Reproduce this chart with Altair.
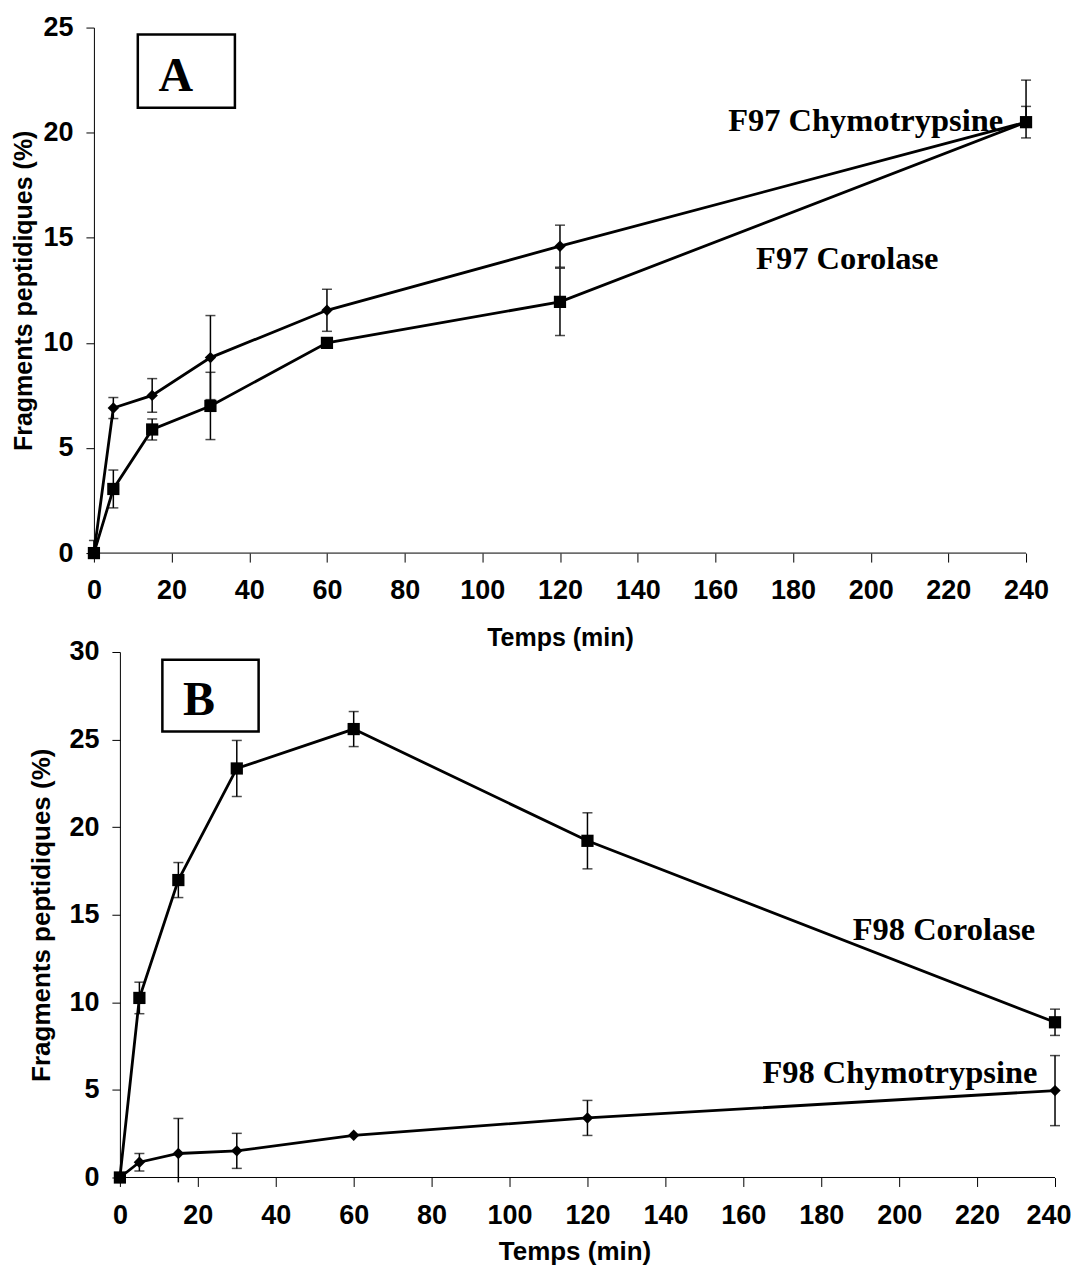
import altair as alt
import pandas as pd

# ---------------- data ----------------
times = [0, 5, 15, 30, 60, 120, 240]

# Panel A
a_chymo = [0, 6.9, 7.5, 9.3, 11.55, 14.6, 20.5]
a_chymo_err_lo = [0, 0.5, 0.8, 2.0, 1.0, 1.0, 0.0]
a_chymo_err_hi = [0.6, 0.5, 0.8, 2.0, 1.0, 1.0, 2.0]
a_corol = [0, 3.05, 5.88, 7.0, 10.0, 11.95, 20.5]
a_corol_err_lo = [0, 0.9, 0.5, 1.6, 0, 1.6, 0.75]
a_corol_err_hi = [0, 0.9, 0.5, 1.6, 0, 1.6, 0.75]

# Panel B
b_corol = [0, 10.25, 16.98, 23.35, 25.6, 19.22, 8.86]
b_corol_err_lo = [0, 0.9, 1.0, 1.6, 1.0, 1.6, 0.75]
b_corol_err_hi = [0, 0.9, 1.0, 1.6, 1.0, 1.6, 0.75]
b_chymo = [0, 0.87, 1.37, 1.52, 2.41, 3.4, 4.96]
b_chymo_err_lo = [0, 0.5, 1.65, 1.0, 0, 1.0, 2.0]
b_chymo_err_hi = [0, 0.5, 2.0, 1.0, 0, 1.0, 2.0]

x_ticks = list(range(0, 241, 20))
a_y_ticks = [0, 5, 10, 15, 20, 25]
b_y_ticks = [0, 5, 10, 15, 20, 25, 30]

a_labels = ["F97 Chymotrypsine", "F97 Corolase"]
a_label_x = [163.3, 170.5]
a_label_y = [20.1, 13.5]
b_labels = ["F98 Corolase", "F98 Chymotrypsine"]
b_label_x = [188.1, 164.9]
b_label_y = [13.56, 5.38]

SANS = "Liberation Sans"
SERIF = "Liberation Serif"


def series_df(pairs):
    rows = []
    for name, vals in pairs:
        for t, v in zip(times, vals):
            rows.append({"t": t, "v": v, "serie": name})
    return pd.DataFrame(rows)


def err_dfs(items):
    bars, caps = [], []
    for vals, lo, hi in items:
        for t, v, l, h in zip(times, vals, lo, hi):
            if l > 0 or h > 0:
                bars.append({"t": t, "lo": v - l, "hi": v + h})
            if l > 0 and v - l >= 0:
                caps.append({"t": t, "y": v - l})
            if h > 0:
                caps.append({"t": t, "y": v + h})
    return pd.DataFrame(bars), pd.DataFrame(caps)


def panel(pairs, err_items, labels, lx, ly, panel_letter, letter_pos, box,
          xdom, ydom, yticks, width, height, yaxis_offset, fs, tfs,
          x_lpad, x_tpad, y_tpad, flush_off):
    xs = alt.Scale(domain=xdom, nice=False, zero=False)
    ys = alt.Scale(domain=ydom, nice=False)
    x_axis = alt.Axis(values=x_ticks, title="Temps (min)", grid=False,
                      tickSize=9, labelPadding=x_lpad, titlePadding=x_tpad,
                      domain=False, labelFont=SANS, labelFontWeight="bold",
                      labelFontSize=fs, titleFont=SANS, titleFontWeight="bold",
                      titleFontSize=tfs, labelColor="black", titleColor="black",
                      tickColor="black", tickWidth=1,
                      labelFlush=flush_off > 0, labelFlushOffset=flush_off)
    y_axis = alt.Axis(values=yticks, title="Fragments peptidiques (%)",
                      grid=False, tickSize=8, labelPadding=13, titlePadding=y_tpad,
                      offset=yaxis_offset, domainColor="black", domainWidth=1,
                      labelFont=SANS, labelFontWeight="bold", labelFontSize=fs,
                      titleFont=SANS, titleFontWeight="bold", titleFontSize=tfs,
                      labelColor="black", titleColor="black", tickColor="black",
                      tickWidth=1, labelFlush=False)

    df = series_df(pairs)
    bars, caps = err_dfs(err_items)

    base_x = alt.X("t:Q", scale=xs, axis=x_axis)

    xline = alt.Chart(pd.DataFrame({"a": [0], "b": [240], "y": [0]})).mark_rule(
        color="black", strokeWidth=1).encode(
        x=alt.X("a:Q", scale=xs, axis=x_axis), x2="b:Q",
        y=alt.Y("y:Q", scale=ys, axis=y_axis))

    rules = alt.Chart(bars).mark_rule(color="black", strokeWidth=1.5).encode(
        x=base_x, y=alt.Y("lo:Q", scale=ys, axis=y_axis), y2="hi:Q")
    capm = alt.Chart(caps).mark_tick(color="black", orient="horizontal",
                                      size=10, thickness=1.5).encode(
        x=base_x, y=alt.Y("y:Q", scale=ys, axis=y_axis))
    lines = alt.Chart(df).mark_line(color="black", strokeWidth=2.8).encode(
        x=base_x, y=alt.Y("v:Q", scale=ys, axis=y_axis), detail="serie:N")
    pts = alt.Chart(df).mark_point(filled=True, color="black", opacity=1).encode(
        x=base_x, y=alt.Y("v:Q", scale=ys, axis=y_axis),
        shape=alt.Shape("serie:N", legend=None,
                        scale=alt.Scale(domain=["chymo", "corol"],
                                        range=["diamond", "square"])),
        size=alt.Size("serie:N", legend=None,
                      scale=alt.Scale(domain=["chymo", "corol"],
                                      range=[130, 150])))

    txt = alt.Chart(pd.DataFrame({"lab": labels, "x": lx, "y": ly})).mark_text(
        font=SERIF, fontWeight="bold", fontSize=32.5, align="left",
        baseline="alphabetic", color="black").encode(
        x=alt.X("x:Q", scale=xs, axis=x_axis),
        y=alt.Y("y:Q", scale=ys, axis=y_axis), text="lab:N")

    boxm = alt.Chart(pd.DataFrame({"x1": [box[0]], "x2": [box[1]],
                                   "y1": [box[2]], "y2": [box[3]]})).mark_rect(
        filled=False, stroke="black", strokeWidth=2.5).encode(
        x=alt.X("x1:Q", scale=xs, axis=x_axis), x2="x2:Q",
        y=alt.Y("y1:Q", scale=ys, axis=y_axis), y2="y2:Q")
    letter = alt.Chart(pd.DataFrame({"lab": [panel_letter], "x": [letter_pos[0]],
                                     "y": [letter_pos[1]]})).mark_text(
        font=SERIF, fontWeight="bold", fontSize=48, align="center",
        baseline="alphabetic", color="black").encode(
        x=alt.X("x:Q", scale=xs, axis=x_axis),
        y=alt.Y("y:Q", scale=ys, axis=y_axis), text="lab:N")

    return alt.layer(xline, rules, capm, lines, pts, txt, boxm, letter).properties(
        width=width, height=height)


chart_a = panel(
    [("chymo", a_chymo), ("corol", a_corol)],
    [(a_chymo, a_chymo_err_lo, a_chymo_err_hi), (a_corol, a_corol_err_lo, a_corol_err_hi)],
    a_labels, a_label_x, a_label_y, "A", (21.1, 22.0), (11.3, 36.3, 24.67, 21.19),
    [0, 240], [0, 25], a_y_ticks, 933, 526, 0, 27, 25, 15, 23, 6, 0)

chart_b = panel(
    [("chymo", b_chymo), ("corol", b_corol)],
    [(b_corol, b_corol_err_lo, b_corol_err_hi), (b_chymo, b_chymo_err_lo, b_chymo_err_hi)],
    b_labels, b_label_x, b_label_y, "B", (20.3, 26.4), (10.9, 35.6, 29.55, 25.46),
    [-6.67, 240], [0, 30], b_y_ticks, 962, 526, -26, 27, 26, 16, 10, 14, 16)

chart = alt.vconcat(chart_a, chart_b, spacing=99, bounds="flush").resolve_scale(
    x="independent", y="independent", shape="independent", size="independent"
).configure_view(stroke=None).properties(padding={"left": 3, "top": 5, "right": 0, "bottom": 0})

chart.save("out.html", embed_options={"renderer": "svg", "actions": False})
